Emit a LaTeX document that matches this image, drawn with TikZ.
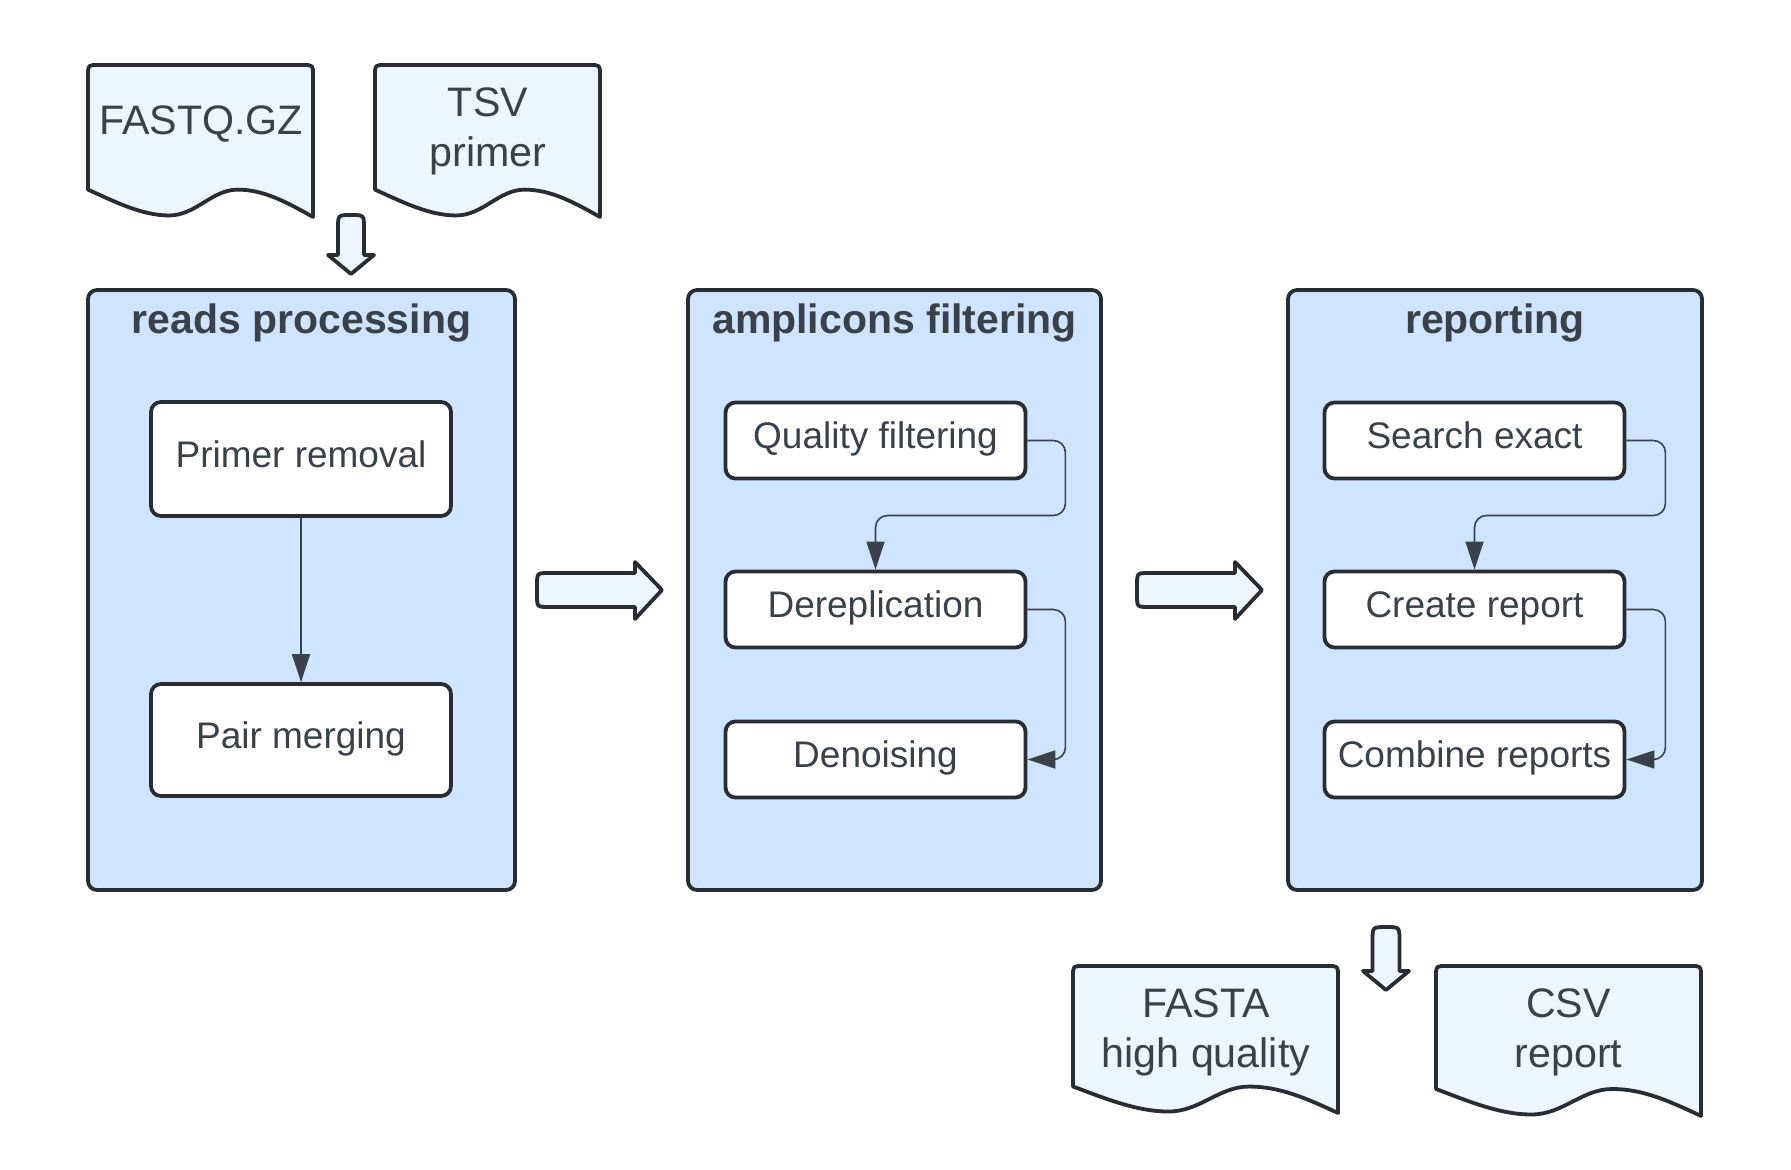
\documentclass[tikz,border=0pt]{standalone}
\usepackage{fontspec}
\setmainfont{Liberation Sans}
\usetikzlibrary{arrows.meta,calc}
\definecolor{grpfill}{HTML}{CFE4FF}
\definecolor{docfill}{HTML}{EDF5FF}
\definecolor{strk}{HTML}{282C33}
\definecolor{txt}{HTML}{3A414A}
\newcommand\docshape[4]{%
  \pgfmathsetmacro\dw{#3-#1}%
  \pgfmathsetmacro\dh{#4-#2}%
  \draw[docsty] (#1,{#2+0.82*\dh}) -- (#1,#2+10) .. controls (#1,#2) .. (#1+10,#2)
    -- (#3-10,#2) .. controls (#3,#2) .. (#3,#2+10) -- (#3,#4)
    .. controls ({#1+0.88*\dw},{#2+0.90*\dh}) and ({#1+0.78*\dw},{#2+0.82*\dh}) .. ({#1+0.665*\dw},{#2+0.82*\dh})
    .. controls ({#1+0.55*\dw},{#2+0.82*\dh}) and ({#1+0.48*\dw},{#2+0.99*\dh}) .. ({#1+0.36*\dw},{#2+0.99*\dh})
    .. controls ({#1+0.24*\dw},{#2+0.99*\dh}) and ({#1+0.12*\dw},{#2+0.90*\dh}) .. (#1,{#2+0.82*\dh}) -- cycle;}
\tikzset{
  grp/.style={draw=strk, fill=grpfill, line width=1.9pt, rounded corners=4.5pt, minimum height=300pt, inner sep=0pt},
  stepbox/.style={draw=strk, fill=white, line width=1.9pt, rounded corners=5pt, minimum width=150pt, text=txt,
    font=\fontsize{18.5}{22}\selectfont, text height=13pt, text depth=5pt, inner sep=0pt},
  ttl/.style={font=\fontsize{20.5}{24}\selectfont\bfseries, text=txt, anchor=base, inner sep=0pt},
  dtxt/.style={font=\fontsize{20.6}{25}\selectfont, text=txt, align=center, inner sep=0pt},
  conn/.style={draw=txt, line width=0.8pt, rounded corners=6pt, -{Triangle[length=14pt,width=9pt]}},
  docsty/.style={draw=strk, fill=docfill, line width=1.9pt, line join=round},
  blockarr/.style={draw=strk, fill=docfill, line width=1.9pt, line join=round}
}
\begin{document}
\begin{tikzpicture}[x=0.5pt, y=-0.5pt]
\useasboundingbox (0,0) rectangle (1791,1170);
% groups
\node[grp, minimum width=213.5pt] (g1) at (301.5,590) {};
\node[grp, minimum width=206.5pt] (g2) at (894.5,590) {};
\node[grp, minimum width=207pt] (g3) at (1495,590) {};
\node[ttl] (t1) at (301.5,334) {reads processing};
\node[ttl] (t2) at (894.5,334) {amplicons filtering};
\node[ttl] (t3) at (1495,334) {reporting};
% steps
\node[stepbox, minimum height=57pt] (pr) at (301,459) {Primer removal};
\node[stepbox, minimum height=56pt] (pm) at (301,740) {Pair merging};
\node[stepbox, minimum height=38pt] (qf) at (875.5,440.5) {Quality filtering};
\node[stepbox, minimum height=38pt] (dr) at (875.5,609.5) {Dereplication};
\node[stepbox, minimum height=38pt] (dn) at (875.5,759.5) {Denoising};
\node[stepbox, minimum height=38pt] (se) at (1474.5,440.5) {Search exact};
\node[stepbox, minimum height=38pt] (cr) at (1474.5,609.5) {Create report};
\node[stepbox, minimum height=38pt] (cb) at (1474.5,759.5) {Combine reports};
% connectors
\draw[conn] (pr) -- (pm);
\draw[conn] (qf.east) -- ++(38,0) -- ++(0,75) -| (dr.north);
\draw[conn] (dr.east) -- ++(38,0) |- (dn.east);
\draw[conn] (se.east) -- ++(39,0) -- ++(0,75) -| (cr.north);
\draw[conn] (cr.east) -- ++(39,0) |- (cb.east);
% documents
\docshape{88}{65}{313}{217}
\docshape{375}{65}{600}{217}
\docshape{1073}{966}{1338}{1113}
\docshape{1436}{966}{1701}{1116}
\node[dtxt, anchor=base] (fq) at (201,135) {FASTQ.GZ};
\node[dtxt] (tsv) at (488,131) {TSV\\primer};
\node[dtxt] (fa) at (1206,1032) {FASTA\\high quality};
\node[dtxt] (csv) at (1568.5,1032) {CSV\\report};
% block arrows
\draw[blockarr] (338,240) -- (338,228) .. controls (338,215) .. (351,215) .. controls (364,215) .. (364,228)
  -- (364,255) -- (374,255) -- (351,274) -- (328,255) -- (338,255) -- cycle;
\draw[blockarr] (1372.5,955) -- (1372.5,940.5) .. controls (1372.5,927) .. (1386,927) .. controls (1399.5,927) .. (1399.5,940.5)
  -- (1399.5,971) -- (1409,971) -- (1386,990) -- (1363,971) -- (1372.5,971) -- cycle;
\draw[blockarr] (600,573) -- (635,573) -- (635,562) -- (662,590) -- (635,619) -- (635,607) -- (549,607)
  .. controls (537,607) .. (537,595) -- (537,585) .. controls (537,573) .. (549,573) -- cycle;
\draw[blockarr] (1200,573) -- (1235,573) -- (1235,562) -- (1262,590) -- (1235,619) -- (1235,607) -- (1149,607)
  .. controls (1137,607) .. (1137,595) -- (1137,585) .. controls (1137,573) .. (1149,573) -- cycle;
\end{tikzpicture}
\end{document}
